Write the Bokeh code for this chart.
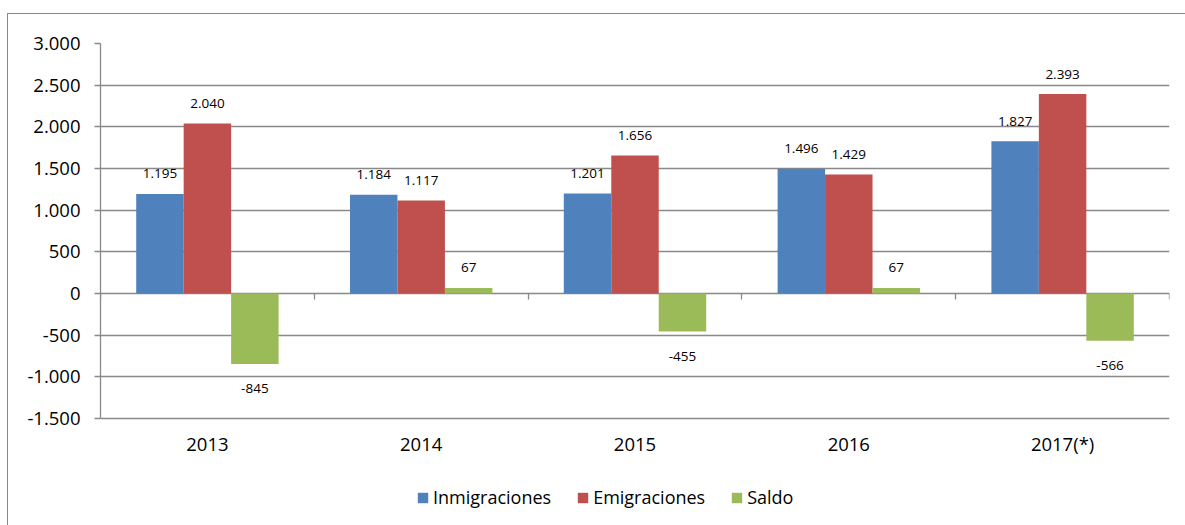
from bokeh.plotting import figure
from bokeh.models import (Range1d, FixedTicker, LinearAxis, ColumnDataSource, Legend, LegendItem)
from bokeh.transform import dodge
from bokeh.core.properties import value
from bokeh.embed import file_html
from bokeh.resources import INLINE

years = ["2013", "2014", "2015", "2016", "2017(*)"]
inmigraciones = [1195, 1184, 1201, 1496, 1827]
emigraciones = [2040, 1117, 1656, 1429, 2393]
saldo = [-845, 67, -455, 67, -566]
series_names = ["Inmigraciones", "Emigraciones", "Saldo"]
colors = ["#4F81BD", "#C0504D", "#9BBB59"]
y_ticks = [-1500, -1000, -500, 0, 500, 1000, 1500, 2000, 2500, 3000]

GRID = "#898989"
FONT = "Open Sans"

Y_MIN, Y_MAX = y_ticks[0], y_ticks[-1]
# plot area spans 375 px for the axis range; the frame continues 107 px lower for labels/legend
PX_PER_UNIT = 375 / (Y_MAX - Y_MIN)
EXTRA = 107 / PX_PER_UNIT


def fmt(v):
    return f"{v:,}".replace(",", ".")


xs = [i + 0.5 for i in range(len(years))]

p = figure(width=1185, height=525, output_backend="svg", toolbar_location=None,
           x_range=Range1d(0, len(years)), y_range=Range1d(Y_MIN - EXTRA, Y_MAX),
           min_border_left=100, min_border_right=16, min_border_top=43, min_border_bottom=0,
           background_fill_alpha=0, border_fill_alpha=0)
p.styles = {
    "background": ("linear-gradient(#898989,#898989) 7px 13px / 1px 100% no-repeat, "
                   "linear-gradient(#898989,#898989) 7px 13px / 100% 1px no-repeat, white")
}
p.outline_line_color = None
p.xgrid.visible = False
p.ygrid.ticker = FixedTicker(ticks=y_ticks)
p.ygrid.grid_line_color = GRID
p.ygrid.grid_line_width = 1.3

# y axis
ya = p.yaxis[0]
ya.ticker = FixedTicker(ticks=y_ticks)
ya.bounds = (Y_MIN, Y_MAX)
ya.major_label_overrides = {t: fmt(t) for t in y_ticks}
ya.axis_line_color = GRID
ya.axis_line_width = 1.3
ya.major_tick_line_color = GRID
ya.major_tick_line_width = 1.3
ya.major_tick_out = 6
ya.major_tick_in = 0
ya.minor_tick_line_color = None
ya.major_label_standoff = 14
ya.major_label_text_font = FONT
ya.major_label_text_font_size = "18.5px"
ya.major_label_text_color = "#000000"

# x label axis, drawn at the bottom of the value range
xa = p.xaxis[0]
xa.fixed_location = Y_MIN
xa.ticker = FixedTicker(ticks=xs)
xa.major_label_overrides = {x: y for x, y in zip(xs, years)}
xa.axis_line_color = None
xa.major_tick_line_color = None
xa.minor_tick_line_color = None
xa.major_tick_in = 0
xa.major_tick_out = 0
xa.major_label_standoff = 12
xa.major_label_text_font = FONT
xa.major_label_text_font_size = "18.5px"
xa.major_label_text_color = "#000000"

# category boundary ticks on the zero line
bounds = list(range(len(years) + 1))
za = LinearAxis(ticker=FixedTicker(ticks=bounds), fixed_location=0,
                axis_line_color=None, major_tick_line_color=GRID, major_tick_line_width=1.3,
                major_tick_in=6, major_tick_out=0, minor_tick_line_color=None,
                major_label_overrides={b: "" for b in bounds}, major_label_standoff=0)
p.add_layout(za, "above")

src = ColumnDataSource(dict(
    x=xs, inm=inmigraciones, emi=emigraciones, sal=saldo,
    inm_t=[fmt(v) for v in inmigraciones], emi_t=[fmt(v) for v in emigraciones],
    sal_t=[fmt(v) for v in saldo],
    inm_o=[-20 if v >= 0 else 25 for v in inmigraciones],
    emi_o=[-20 if v >= 0 else 25 for v in emigraciones],
    sal_o=[-20 if v >= 0 else 25 for v in saldo],
))

W = 0.222
offsets = [-W, 0.0, W]
cols = ["inm", "emi", "sal"]
items = []
for name, col, off, c in zip(series_names, cols, offsets, colors):
    r = p.vbar(x=dodge("x", off), top=col, bottom=0, width=W, source=src,
               fill_color=c, line_color=None)
    items.append(LegendItem(label=name, renderers=[r]))
    p.text(x=dodge("x", off), y=col, text=col + "_t", y_offset=col + "_o", source=src,
           text_align="center", text_baseline="middle", text_font=value(FONT),
           text_font_size="13.5px", text_color="#000000")

legend = Legend(items=items, orientation="horizontal", location=(316, 16),
                glyph_width=13, glyph_height=13, label_standoff=4, spacing=25,
                padding=0, margin=0, border_line_color=None, background_fill_alpha=0,
                label_text_font=FONT, label_text_font_size="18px", label_text_color="#000000")
p.add_layout(legend, "center")

open("out.html", "w").write(file_html(p, INLINE))
